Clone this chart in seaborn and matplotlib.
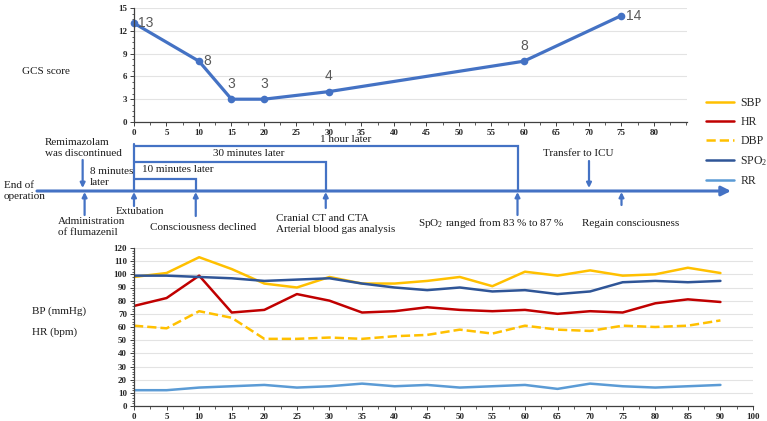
import matplotlib
matplotlib.use("Agg")
import matplotlib.pyplot as plt
from matplotlib.ticker import MultipleLocator
import seaborn as sns
import pandas as pd

# GCS score over time (minutes after extubation)
gcs_times = [0, 10, 15, 20, 30, 60, 75]
gcs_scores = [13, 8, 3, 3, 4, 8, 14]

# vital signs every 5 minutes
vital_times = [0, 5, 10, 15, 20, 25, 30, 35, 40, 45, 50, 55, 60, 65, 70, 75, 80, 85, 90]
sbp = [98, 101, 113, 104, 93, 90, 98, 93, 93, 95, 98, 91, 102, 99, 103, 99, 100, 105, 101]
hr = [76, 82, 99, 71, 73, 85, 80, 71, 72, 75, 73, 72, 73, 70, 72, 71, 78, 81, 79]
dbp = [61, 59, 72, 67, 51, 51, 52, 51, 53, 54, 58, 55, 61, 58, 57, 61, 60, 61, 65]
spo2 = [99, 99, 98, 97, 95, 96, 97, 93, 90, 88, 90, 87, 88, 85, 87, 94, 95, 94, 95]
rr = [12, 12, 14, 15, 16, 14, 15, 17, 15, 16, 14, 15, 16, 13, 17, 15, 14, 15, 16]
vital_tick_labels = ['0', '5', '10', '15', '20', '25', '30', '35', '40', '45', '50',
                     '55', '60', '65', '70', '75', '80', '85', '90', '100']

# timeline events (minutes relative to extubation)
t_flumazenil = -7.6
t_extubation = 0
t_declined = 9.5
t_ct = 29.5
t_spo2 = 59
t_icu = 70
t_regain = 75

sns.set_theme(style="white")
plt.rcParams['font.family'] = ['Liberation Serif', 'DejaVu Serif']
plt.rcParams['mathtext.fontset'] = 'stix'

W, H = 767, 421
fig = plt.figure(figsize=(W / 100, H / 100), dpi=100)

def fx(px):
    return px / W

def fy(py):
    return 1 - py / H

blue = '#4472C4'
grid_c = '#E3E3E3'

def style_axis(ax):
    for s in ['top', 'right']:
        ax.spines[s].set_visible(False)
    for s in ['left', 'bottom']:
        ax.spines[s].set_color('#404040')
        ax.spines[s].set_linewidth(0.9)
    ax.tick_params(which='major', direction='out', length=3, width=0.7, color='#404040', pad=2,
                   left=True, bottom=True)
    ax.tick_params(which='minor', direction='out', length=1.8, width=0.6, color='#404040',
                   left=True, bottom=True)
    ax.grid(axis='y', color=grid_c, lw=0.8)
    ax.set_axisbelow(True)
    for lab in ax.get_xticklabels() + ax.get_yticklabels():
        lab.set_fontsize(6.5)
        lab.set_fontweight('bold')
        lab.set_color('#262626')

# ---- top: GCS chart
ax1 = fig.add_axes([fx(134), fy(122), fx(687 - 134), fy(8) - fy(122)])
gcs_df = pd.DataFrame({'t': gcs_times, 'gcs': gcs_scores})
sns.lineplot(data=gcs_df, x='t', y='gcs', ax=ax1, color=blue, lw=2.3, marker='o',
             markersize=5.5, markeredgewidth=0, clip_on=False)
ax1.set_xlim(0, 85.1)
ax1.set_ylim(0, 15)
ax1.set_xticks(range(0, 85, 5))
ax1.set_yticks(range(0, 16, 3))
ax1.xaxis.set_minor_locator(MultipleLocator(2.5))
ax1.yaxis.set_minor_locator(MultipleLocator(0.75))
ax1.set_xlabel('')
ax1.set_ylabel('')
style_axis(ax1)

for t, g in zip(gcs_times, gcs_scores):
    if t in (0, 10, 75):
        ax1.annotate(str(g), (t, g), xytext=(3, 0), textcoords='offset points',
                     ha='left', va='center', fontsize=10, color='#595959', family='Liberation Sans')
    else:
        ax1.annotate(str(g), (t, g), xytext=(0, 6), textcoords='offset points',
                     ha='center', va='bottom', fontsize=10, color='#595959', family='Liberation Sans')

# ---- bottom: vital signs
ax2 = fig.add_axes([fx(134), fy(406), fx(753 - 134), fy(248) - fy(406)])
vitals = pd.DataFrame({'t': vital_times, 'SBP': sbp, 'HR': hr, 'DBP': dbp, 'SPO2': spo2, 'RR': rr})
series = [('SBP', '#FFC000', '-', 'SBP'),
          ('HR', '#C00000', '-', 'HR'),
          ('DBP', '#FFC000', '--', 'DBP'),
          ('SPO2', '#2F5597', '-', r'SPO$_\mathregular{2}$'),
          ('RR', '#5B9BD5', '-', 'RR')]
for col, c, ls, lab in series:
    sns.lineplot(data=vitals, x='t', y=col, ax=ax2, color=c, lw=1.8, linestyle=ls, label=lab)
ax2.set_xlim(0, 95)
ax2.set_ylim(0, 120)
ax2.set_xticks(range(0, 96, 5))
ax2.set_xticklabels(vital_tick_labels)
ax2.set_yticks(range(0, 121, 10))
ax2.xaxis.set_minor_locator(MultipleLocator(2.5))
ax2.yaxis.set_minor_locator(MultipleLocator(2))
ax2.set_xlabel('')
ax2.set_ylabel('')
style_axis(ax2)
ax2.legend(loc='upper left', bbox_to_anchor=(fx(706), fy(97)), bbox_transform=fig.transFigure,
           frameon=False, fontsize=8.5, handlelength=2.4, handletextpad=0.5, labelspacing=0.6,
           borderaxespad=0, borderpad=0)

# ---- middle: timeline overlay (x in minutes, y in pixel rows)
tl = fig.add_axes([0, 0, 1, 1])
tl.set_xlim(-134 / 6.5, (W - 134) / 6.5)
tl.set_ylim(H, 0)
tl.set_axis_off()
tl.patch.set_alpha(0)

y0 = 191
lw_main = 2.2
tl.annotate('', xy=((731 - 134) / 6.5, y0), xytext=((37 - 134) / 6.5, y0),
            arrowprops=dict(arrowstyle='-|>', color=blue, lw=lw_main, mutation_scale=14,
                            shrinkA=0, shrinkB=0))

def up_arrow(t, ybot):
    tl.annotate('', xy=(t, y0 + 1), xytext=(t, ybot),
                arrowprops=dict(arrowstyle='-|>', color=blue, lw=1.6, mutation_scale=7,
                                shrinkA=0, shrinkB=0))

def down_arrow(t, ytop):
    tl.annotate('', xy=(t, y0 - 3), xytext=(t, ytop),
                arrowprops=dict(arrowstyle='-|>', color=blue, lw=1.6, mutation_scale=7,
                                shrinkA=0, shrinkB=0))

def bracket(t_end, ytop):
    tl.plot([t_extubation, t_end, t_end], [ytop, ytop, y0], color=blue, lw=1.6,
            solid_joinstyle='miter')

tl.plot([t_extubation, t_extubation], [144, y0], color=blue, lw=1.6)
bracket(t_spo2, 146)
bracket(t_ct, 162)
bracket(t_declined, 179)

up_arrow(t_flumazenil, 215)
up_arrow(t_extubation, 206)
up_arrow(t_declined, 216)
up_arrow(t_ct, 208)
up_arrow(t_spo2, 215)
up_arrow(t_regain, 205)
down_arrow(t_flumazenil - 0.3, 160)
down_arrow(t_icu, 161)

def txt(px, py, s, ha='left', **kw):
    tl.text((px - 134) / 6.5, py, s, ha=ha, va='center', fontsize=8, color='#1a1a1a', **kw)

txt(4, 191, 'End of\noperation', linespacing=1.2)
txt(45, 148, 'Remimazolam\nwas discontinued', linespacing=1.2)
txt(90, 177, '8 minutes\nlater', linespacing=1.2)
txt(142, 170, '10 minutes later')
txt(213, 154, '30 minutes later')
txt(320, 140, '1 hour later')
txt(116, 212, 'Extubation')
txt(58, 227, 'Administration\nof flumazenil', linespacing=1.15)
txt(150, 228, 'Consciousness declined')
txt(276, 224, 'Cranial CT and CTA\nArterial blood gas analysis', linespacing=1.15)
txt(418, 223, r'SpO$_\mathregular{2}$ ranged from 83 % to 87 %')
txt(543, 153, 'Transfer to ICU')
txt(582, 223, 'Regain consciousness')

txt(22, 72, 'GCS score')
txt(32, 311, 'BP (mmHg)')
txt(32, 332, 'HR (bpm)')

plt.savefig('out.png', dpi=100)
